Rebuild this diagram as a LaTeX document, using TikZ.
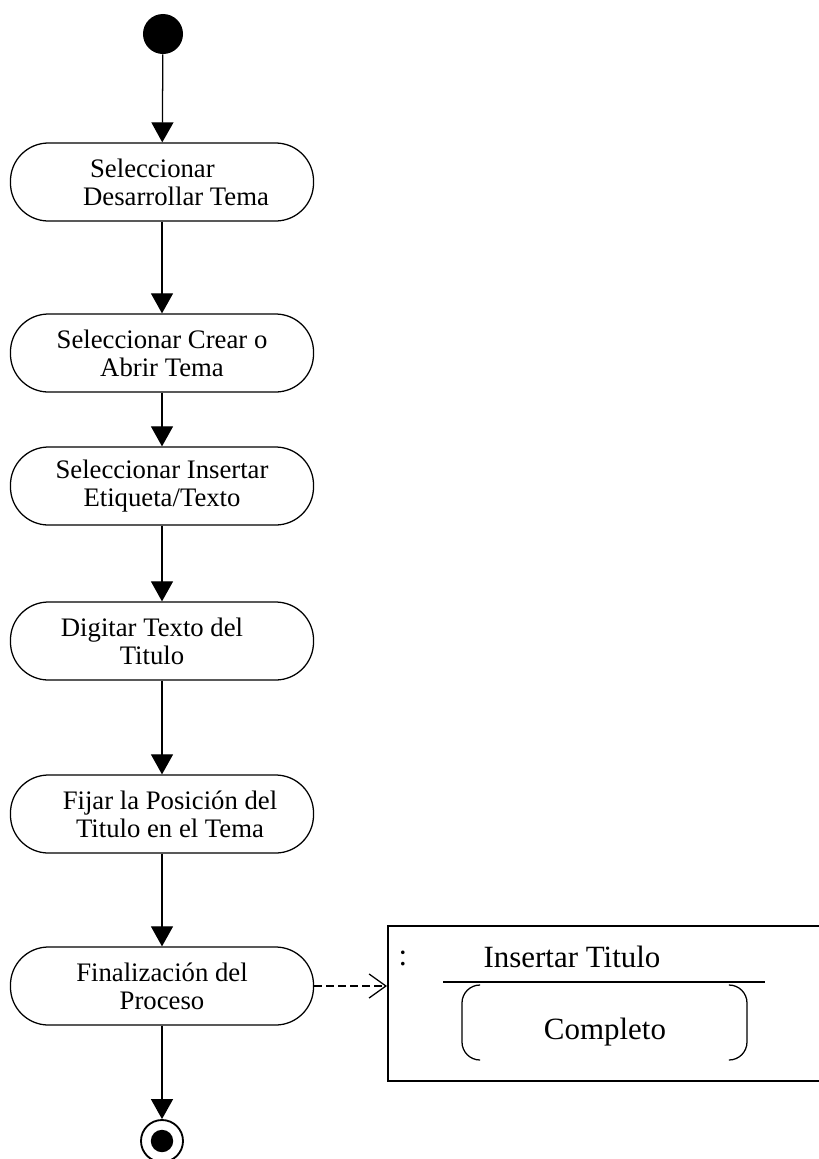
\documentclass[tikz,border=0pt]{standalone}
\usepackage{fontspec}
\setmainfont{Liberation Serif}
\usetikzlibrary{arrows.meta}

\begin{document}
\begin{tikzpicture}[x=0.025cm, y=-0.025cm,
    actividad/.style={draw, line width=0.9pt, rounded corners=0.95cm,
        minimum width=7.575cm, minimum height=1.95cm, align=center,
        font=\fontsize{19}{20}\selectfont},
    flecha/.style={-{Triangle[width=0.55cm,length=0.5cm]}, line width=0.9pt},
    punteada/.style={-{Straight Barb[length=0.42cm,width=0.6cm]}, line width=0.9pt,
        dash pattern=on 0.2cm off 0.1cm},
    texto/.style={font=\fontsize{22}{24}\selectfont, inner sep=0pt}]

    \useasboundingbox (0,0) rectangle (818,1159);

    % --- Inicio ---
    \node (ini) [circle, fill=black, minimum size=1cm, inner sep=0pt] at (163,34) {};

    % --- Actividades ---
    \node (a1) [actividad, align=left] at (162,182)
        {\hspace*{0.875cm}Seleccionar\\\hspace*{0.7cm}Desarrollar Tema};
    \node (a2) [actividad] at (162,353) {Seleccionar Crear o\\Abrir Tema};
    \node (a3) [actividad] at (162,486) {Seleccionar Insertar\\Etiqueta/Texto};
    \node (a4) [actividad] at (162,641) {Digitar Texto del\hspace*{0.5cm}\\Titulo\hspace*{0.5cm}};
    \node (a5) [actividad] at (162,814)
        {\hspace*{0.4cm}Fijar la Posición del\\\hspace*{0.4cm}Titulo en el Tema};
    \node (a6) [actividad] at (162,986) {Finalización del\\Proceso};

    % --- Fin ---
    \node (fin) [circle, draw, line width=1.3pt, minimum size=1.05cm, inner sep=0pt] at (162,1141) {};
    \fill (fin.center) circle[radius=0.28cm];

    % flujo principal
    \draw[flecha] (ini) -- (a1);
    \draw[flecha] (a1) -- (a2);
    \draw[flecha] (a2) -- (a3);
    \draw[flecha] (a3) -- (a4);
    \draw[flecha] (a4) -- (a5);
    \draw[flecha] (a5) -- (a6);
    \draw[flecha] (a6) -- (fin);

    % --- Objeto: Insertar Titulo ---
    \node (objeto) [draw, line width=1.1pt, anchor=north west, minimum width=11.5cm,
        minimum height=3.875cm, inner sep=0pt] at (387,925) {};
    \node (dospuntos) [texto] at (403,958) {:};
    \node (nombre) [texto] at (572,957) {Insertar Titulo};
    \draw[line width=0.9pt] (443,982) -- (765,982);
    \node (estado) [texto] at (605,1032) {Completo};
    \draw[line width=0.9pt, rounded corners=0.45cm] (480,985) -- (462,985) -- (462,1060) -- (480,1060);
    \draw[line width=0.9pt, rounded corners=0.45cm] (729,985) -- (747,985) -- (747,1060) -- (729,1060);

    \draw[punteada] (a6.east) -- (a6.east -| objeto.west);

\end{tikzpicture}
\end{document}
